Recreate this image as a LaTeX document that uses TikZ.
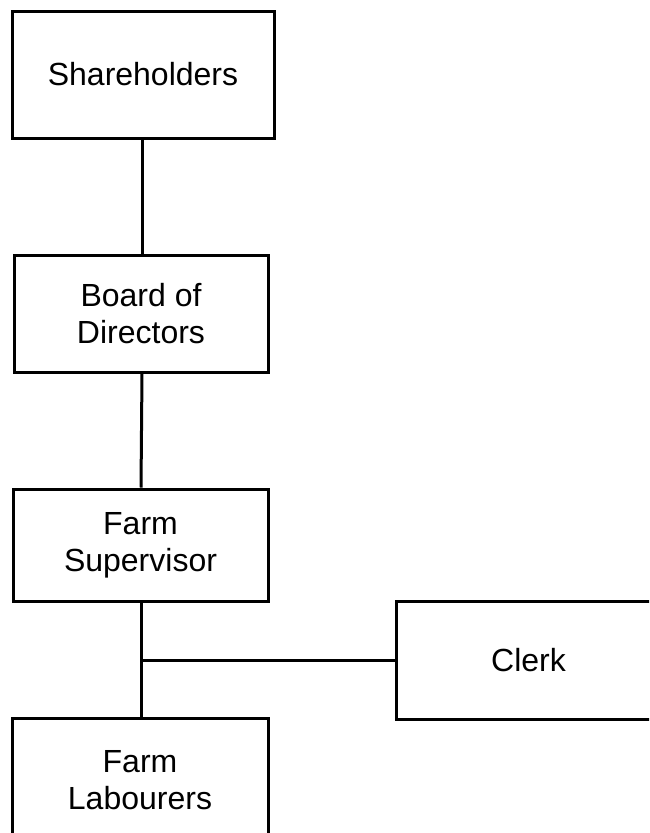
\documentclass[tikz,border=0pt]{standalone}
\usepackage{fontspec}
\setmainfont{Liberation Sans}
\begin{document}
\begin{tikzpicture}[x=1pt,y=-1pt,
  orgbox/.style={draw,line width=3pt,rectangle,inner sep=0pt,align=center,
    font=\fontsize{32}{37}\selectfont},
  conn/.style={line width=3pt}]
\useasboundingbox (0,0) rectangle (649,833);
\clip (0,0) rectangle (649,833);
\node[orgbox,minimum width=262pt,minimum height=127pt] (sh) at (143,74.5) {Shareholders};
\node[orgbox,minimum width=254pt,minimum height=117pt] (bd) at (141,313.5) {Board of\\Directors};
\node[orgbox,minimum width=255pt,minimum height=112pt] (sv) at (140.5,545) {Farm\\Supervisor};
\node[orgbox,minimum width=265pt,minimum height=118pt] (ck) at (528.5,660) {Clerk};
\node[orgbox,minimum width=256pt,minimum height=124pt] (lb) at (140,780) {Farm\\Labourers};
\coordinate (j) at (141,660);
\coordinate (a) at (142,0);
\draw[conn] (sh.south -| a) -- (bd.north -| a);
\draw[conn] (bd.south -| a) -- (sv.north -| j);
\draw[conn] (sv.south -| j) -- (lb.north -| j);
\draw[conn] (j) -- (ck.west);
\end{tikzpicture}
\end{document}
